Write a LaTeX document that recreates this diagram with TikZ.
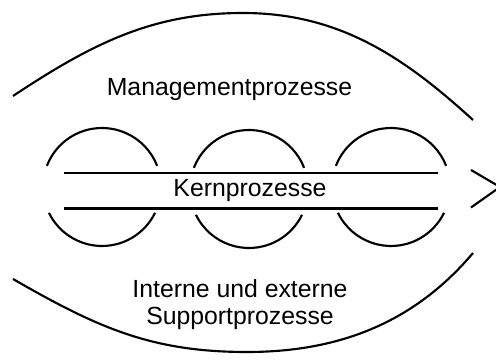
\documentclass[tikz,border=0pt]{standalone}
\usepackage{fontspec}
\setmainfont{Liberation Sans}
\usetikzlibrary{positioning}
\tikzset{linie/.style={line width=1.6pt},
	beschriftung/.style={font=\fontsize{18.6}{20.25}\selectfont, inner sep=0pt, align=center}}

\begin{document}
\begin{tikzpicture}[x=.75pt, y=.75pt]
\newcommand{\kreisr}{59}
	\useasboundingbox (0,0) rectangle (496,360);
	%Aeussere Boegen
	\draw[linie] (13,264) .. controls (93,317) and (153,347) .. (243,347)%
	                      .. controls (338,347) and (403,304) .. (473,240);
	\draw[linie] (13,81) .. controls (98,32) and (152,8) .. (247,8)%
	                     .. controls (337,8) and (413,36) .. (473,107);
	%Kreise der Kernprozesse
	\foreach \kx/\ky in {102/173, 249/171, 391/173} {
		\draw[linie] (\kx,\ky) ++(21:\kreisr) arc[start angle=21, end angle=159, radius=\kreisr];
		\draw[linie] (\kx,\ky) ++(206:\kreisr) arc[start angle=206, end angle=334, radius=\kreisr];
	}
	%Band
	\coordinate (bandOL) at (64,187);
	\coordinate (bandOR) at (438,187);
	\coordinate (bandUL) at (64,151.5);
	\coordinate (bandUR) at (438,151.5);
	\draw[linie] (bandOL) -- (bandOR);
	\draw[linie] (bandUL) -- (bandUR);
	%Pfeilspitze
	\draw[linie] (471,190) -- (500,173) -- (471,152.5);
	%Texte
	\node[beschriftung, anchor=base] (mgmt) at (229.5,264) {Managementprozesse};
	\node[beschriftung, anchor=base] (kern) at (250,163) {Kernprozesse};
	\node[beschriftung, anchor=base] (support) at (240,35) {Interne und externe\\Supportprozesse};
\end{tikzpicture}
\end{document}
